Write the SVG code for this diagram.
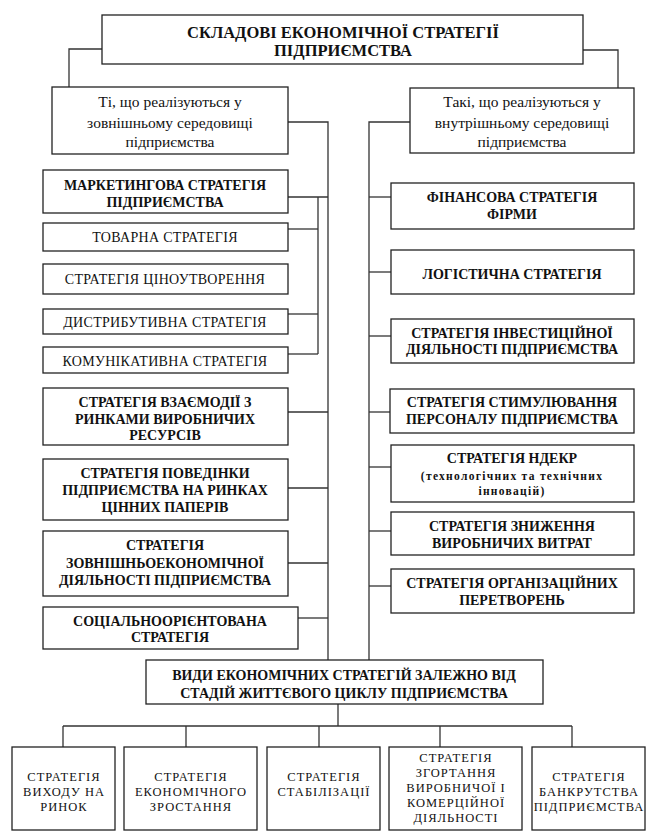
<svg xmlns="http://www.w3.org/2000/svg" width="647" height="832" viewBox="0 0 647 832">
<style>
.box{fill:#fff;stroke:#222;stroke-width:1.3}
.ln{fill:none;stroke:#333;stroke-width:1.3}
text{font-family:"Liberation Serif",Tinos,"Nimbus Roman","Times New Roman",Times,FreeSerif,"DejaVu Serif","Noto Serif",serif;text-anchor:middle;fill:#111}
.t{font-weight:bold;font-size:16.5px}
.h{font-size:15.5px}
.b{font-weight:bold;font-size:14px}
.r{font-size:14px;letter-spacing:0.3px}
.s{font-size:12.5px;letter-spacing:1px}
.n{font-weight:bold;font-size:11.5px;letter-spacing:1.3px}
</style>
<rect width="647" height="832" fill="#fff"/>
<g id="connectors">
<polyline class="ln" points="102,49 69,49 69,87"/>
<polyline class="ln" points="583,50 618,50 618,88"/>
<polyline class="ln" points="288,122 328,122 328,660"/>
<polyline class="ln" points="410,122 369,122 369,660"/>
<line class="ln" x1="288" y1="197" x2="328" y2="197"/>
<line class="ln" x1="318" y1="197" x2="318" y2="354"/>
<line class="ln" x1="288" y1="229" x2="318" y2="229"/>
<line class="ln" x1="288" y1="314" x2="318" y2="314"/>
<line class="ln" x1="288" y1="354" x2="318" y2="354"/>
<line class="ln" x1="288" y1="412" x2="328" y2="412"/>
<line class="ln" x1="288" y1="488" x2="328" y2="488"/>
<line class="ln" x1="288" y1="563" x2="328" y2="563"/>
<line class="ln" x1="298" y1="618" x2="328" y2="618"/>
<line class="ln" x1="369" y1="197" x2="391" y2="197"/>
<line class="ln" x1="369" y1="272" x2="391" y2="272"/>
<line class="ln" x1="369" y1="336" x2="391" y2="336"/>
<line class="ln" x1="369" y1="412" x2="391" y2="412"/>
<line class="ln" x1="369" y1="467" x2="391" y2="467"/>
<line class="ln" x1="369" y1="531" x2="391" y2="531"/>
<line class="ln" x1="369" y1="586" x2="391" y2="586"/>
<line class="ln" x1="338" y1="704" x2="338" y2="726"/>
<line class="ln" x1="63" y1="726" x2="572" y2="726"/>
<line class="ln" x1="63" y1="726" x2="63" y2="747"/>
<line class="ln" x1="186" y1="726" x2="186" y2="747"/>
<line class="ln" x1="319" y1="726" x2="319" y2="747"/>
<line class="ln" x1="440" y1="726" x2="440" y2="747"/>
<line class="ln" x1="572" y1="726" x2="572" y2="747"/>
</g>
<g id="title"><rect class="box" x="102" y="15" width="481" height="49"/>
<text class="t" x="343" y="38">СКЛАДОВІ ЕКОНОМІЧНОЇ СТРАТЕГІЇ</text>
<text class="t" x="343" y="56">ПІДПРИЄМСТВА</text></g>
<g id="external"><rect class="box" x="52" y="87" width="236" height="67"/>
<text class="h" x="170" y="107">Ті, що реалізуються у</text>
<text class="h" x="170" y="128">зовнішньому середовищі</text>
<text class="h" x="170" y="147">підприємства</text></g>
<g id="internal"><rect class="box" x="410" y="88" width="224" height="65"/>
<text class="h" x="522" y="107">Такі, що реалізуються у</text>
<text class="h" x="522" y="128">внутрішньому середовищі</text>
<text class="h" x="522" y="147">підприємства</text></g>
<g id="marketing"><rect class="box" x="43" y="170" width="245" height="43"/>
<text class="b" x="165" y="190">МАРКЕТИНГОВА СТРАТЕГІЯ</text>
<text class="b" x="165" y="207">ПІДПРИЄМСТВА</text></g>
<g id="product"><rect class="box" x="43" y="223" width="245" height="28"/>
<text class="r" x="165" y="242">ТОВАРНА СТРАТЕГІЯ</text></g>
<g id="pricing"><rect class="box" x="43" y="264" width="245" height="30"/>
<text class="r" x="165" y="284">СТРАТЕГІЯ ЦІНОУТВОРЕННЯ</text></g>
<g id="distribution"><rect class="box" x="43" y="309" width="245" height="25"/>
<text class="r" x="165" y="327">ДИСТРИБУТИВНА СТРАТЕГІЯ</text></g>
<g id="communication"><rect class="box" x="43" y="347" width="245" height="26"/>
<text class="r" x="165" y="366">КОМУНІКАТИВНА СТРАТЕГІЯ</text></g>
<g id="resources"><rect class="box" x="43" y="388" width="245" height="57"/>
<text class="b" x="165" y="407">СТРАТЕГІЯ ВЗАЄМОДІЇ З</text>
<text class="b" x="165" y="424">РИНКАМИ ВИРОБНИЧИХ</text>
<text class="b" x="165" y="440">РЕСУРСІВ</text></g>
<g id="securities"><rect class="box" x="43" y="459" width="245" height="61"/>
<text class="b" x="165" y="478">СТРАТЕГІЯ ПОВЕДІНКИ</text>
<text class="b" x="165" y="495">ПІДПРИЄМСТВА НА РИНКАХ</text>
<text class="b" x="165" y="512">ЦІННИХ ПАПЕРІВ</text></g>
<g id="foreign"><rect class="box" x="43" y="531" width="245" height="65"/>
<text class="b" x="165" y="550">СТРАТЕГІЯ</text>
<text class="b" x="165" y="568">ЗОВНІШНЬОЕКОНОМІЧНОЇ</text>
<text class="b" x="165" y="585">ДІЯЛЬНОСТІ ПІДПРИЄМСТВА</text></g>
<g id="social"><rect class="box" x="43" y="607" width="255" height="42"/>
<text class="b" x="170" y="626">СОЦІАЛЬНООРІЄНТОВАНА</text>
<text class="b" x="170" y="642">СТРАТЕГІЯ</text></g>
<g id="financial"><rect class="box" x="391" y="183" width="243" height="46"/>
<text class="b" x="512" y="202">ФІНАНСОВА СТРАТЕГІЯ</text>
<text class="b" x="512" y="219">ФІРМИ</text></g>
<g id="logistics"><rect class="box" x="391" y="250" width="243" height="44"/>
<text class="b" x="512" y="279">ЛОГІСТИЧНА СТРАТЕГІЯ</text></g>
<g id="investment"><rect class="box" x="391" y="319" width="243" height="44"/>
<text class="b" x="512" y="338">СТРАТЕГІЯ ІНВЕСТИЦІЙНОЇ</text>
<text class="b" x="512" y="354">ДІЯЛЬНОСТІ ПІДПРИЄМСТВА</text></g>
<g id="personnel"><rect class="box" x="390" y="389" width="244" height="44"/>
<text class="b" x="512" y="407">СТРАТЕГІЯ СТИМУЛЮВАННЯ</text>
<text class="b" x="512" y="424">ПЕРСОНАЛУ ПІДПРИЄМСТВА</text></g>
<g id="rnd"><rect class="box" x="391" y="445" width="243" height="57"/>
<text class="b" x="512" y="463">СТРАТЕГІЯ НДЕКР</text>
<text class="n" x="512" y="480">(технологічних та технічних</text>
<text class="n" x="512" y="495">інновацій)</text></g>
<g id="costs"><rect class="box" x="391" y="512" width="243" height="43"/>
<text class="b" x="512" y="531">СТРАТЕГІЯ ЗНИЖЕННЯ</text>
<text class="b" x="512" y="548">ВИРОБНИЧИХ ВИТРАТ</text></g>
<g id="organizational"><rect class="box" x="391" y="569" width="243" height="44"/>
<text class="b" x="512" y="588">СТРАТЕГІЯ ОРГАНІЗАЦІЙНИХ</text>
<text class="b" x="512" y="605">ПЕРЕТВОРЕНЬ</text></g>
<g id="lifecycle"><rect class="box" x="146" y="660" width="397" height="44"/>
<text class="b" x="344" y="680">ВИДИ ЕКОНОМІЧНИХ СТРАТЕГІЙ ЗАЛЕЖНО ВІД</text>
<text class="b" x="344" y="698">СТАДІЙ ЖИТТЄВОГО ЦИКЛУ ПІДПРИЄМСТВА</text></g>
<g id="entry"><rect class="box" x="12" y="747" width="103" height="83"/>
<text class="s" x="64" y="781">СТРАТЕГІЯ</text>
<text class="s" x="64" y="796">ВИХОДУ НА</text>
<text class="s" x="64" y="811">РИНОК</text></g>
<g id="growth"><rect class="box" x="124" y="747" width="133" height="83"/>
<text class="s" x="191" y="781">СТРАТЕГІЯ</text>
<text class="s" x="191" y="796">ЕКОНОМІЧНОГО</text>
<text class="s" x="191" y="811">ЗРОСТАННЯ</text></g>
<g id="stabilization"><rect class="box" x="267" y="747" width="113" height="83"/>
<text class="s" x="324" y="781">СТРАТЕГІЯ</text>
<text class="s" x="324" y="796">СТАБІЛІЗАЦІЇ</text></g>
<g id="curtailment"><rect class="box" x="389" y="747" width="133" height="83"/>
<text class="s" x="456" y="762">СТРАТЕГІЯ</text>
<text class="s" x="456" y="777">ЗГОРТАННЯ</text>
<text class="s" x="456" y="792">ВИРОБНИЧОЇ І</text>
<text class="s" x="456" y="807">КОМЕРЦІЙНОЇ</text>
<text class="s" x="456" y="822">ДІЯЛЬНОСТІ</text></g>
<g id="bankruptcy"><rect class="box" x="532" y="747" width="113" height="83"/>
<text class="s" x="589" y="781">СТРАТЕГІЯ</text>
<text class="s" x="589" y="796">БАНКРУТСТВА</text>
<text class="s" x="589" y="811">ПІДПРИЄМСТВА</text></g>
</svg>
